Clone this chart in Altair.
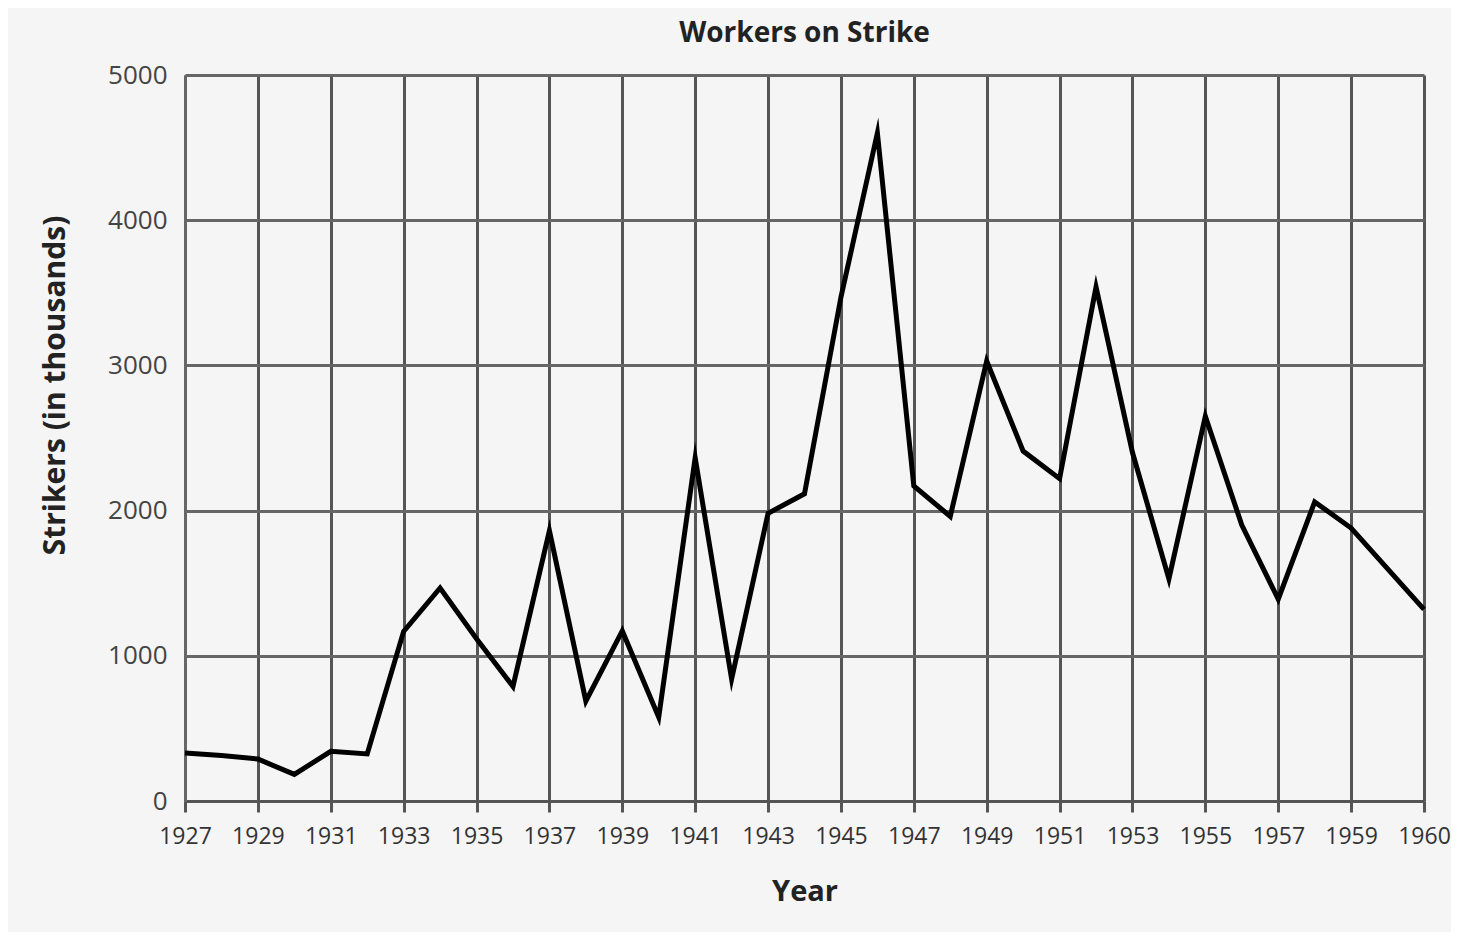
import altair as alt
import pandas as pd

years = list(range(1927, 1961))
strikers = [330, 314, 289, 183, 342, 324, 1168, 1467, 1117, 789,
            1861, 688, 1171, 577, 2363, 840, 1981, 2116, 3470, 4600,
            2170, 1960, 3030, 2410, 2220, 3540, 2400, 1530, 2650, 1900,
            1390, 2060, 1880, 1320]
x_ticks = [1927, 1929, 1931, 1933, 1935, 1937, 1939, 1941, 1943, 1945,
           1947, 1949, 1951, 1953, 1955, 1957, 1959, 1960]
y_ticks = [0, 1000, 2000, 3000, 4000, 5000]

df = pd.DataFrame({"Year": years, "Strikers": strikers})

W = 1239
H = 726
FONT = "Open Sans"
BG = "#f5f5f5"

x_scale = alt.Scale(domain=[1927, 1959, 1960], range=[0, W * 32 / 34, W], nice=False, zero=False)

chart = alt.Chart(df).mark_line(
    color="#000000", strokeWidth=5, strokeJoin="miter", strokeMiterLimit=10
).encode(
    x=alt.X("Year:Q", scale=x_scale,
            axis=alt.Axis(values=x_ticks, format="d", title="Year",
                          labelFont=FONT, labelFontSize=23, labelColor="#333333",
                          labelPadding=13, labelFlush=False, labelOverlap=False,
                          tickSize=11, tickColor="#555555", tickWidth=3,
                          domainColor="#555555", domainWidth=3,
                          grid=True, gridColor="#555555", gridWidth=3,
                          titleFont=FONT, titleFontSize=29, titleFontWeight="bold",
                          titleColor="#222222", titleY=90, titleBaseline="middle")),
    y=alt.Y("Strikers:Q", scale=alt.Scale(domain=[0, 5000], nice=False),
            axis=alt.Axis(values=y_ticks, format="d", title="Strikers (in thousands)",
                          labelFont=FONT, labelFontSize=26, labelColor="#444444",
                          labelPadding=18, ticks=False,
                          domainColor="#666666", domainWidth=3,
                          grid=True, gridColor="#666666", gridWidth=3,
                          titleFont=FONT, titleFontSize=30, titleFontWeight="bold",
                          titleColor="#222222", titleX=-130, titleY=310,
                          titleAngle=270, titleBaseline="middle", titleAlign="center")),
).properties(
    width=W, height=H,
    background=BG,
    autosize=alt.AutoSizeParams(type="none"),
    padding={"left": 177, "top": 67, "right": 27, "bottom": 131},
    title=alt.TitleParams("Workers on Strike", font=FONT, fontSize=28, fontWeight="bold",
                          color="#222222", anchor="middle", offset=14),
).configure_view(stroke=None, fill=BG)

chart.save("out.html", embed_options={"renderer": "svg", "actions": False})
